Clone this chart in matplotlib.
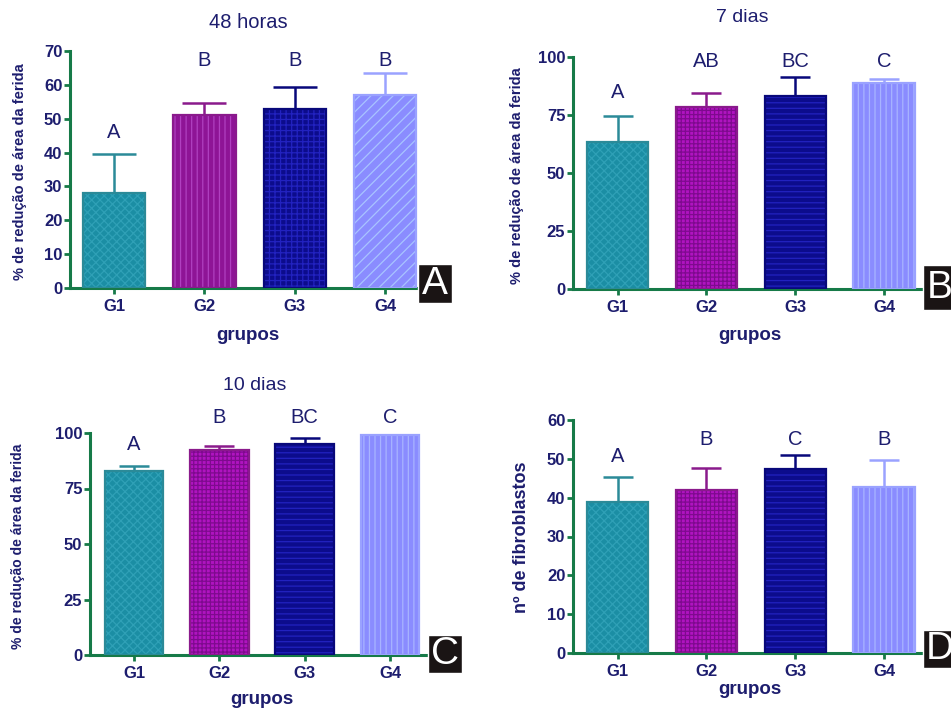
import matplotlib
matplotlib.use("Agg")
import matplotlib.pyplot as plt
from matplotlib.patches import Rectangle
import numpy as np

plt.rcParams['font.family'] = ['Liberation Sans', 'DejaVu Sans']
plt.rcParams['hatch.linewidth'] = 0.9

# ---------------- data ----------------
groups = ["G1", "G2", "G3", "G4"]

a_title = "48 horas"
a_means = [28, 51, 53, 57]
a_err = [11.7, 3.5, 6.5, 6.5]
a_letters = ["A", "B", "B", "B"]
a_letter_y = [45.8, 67.3, 67.3, 67.3]
a_yticks = [0, 10, 20, 30, 40, 50, 60, 70]

b_title = "7 dias"
b_means = [63.5, 78.5, 83, 89]
b_err = [11.2, 5.8, 8.5, 1.7]
b_letters = ["A", "AB", "BC", "C"]
b_letter_y = [84.5, 98, 98, 98]
b_yticks = [0, 25, 50, 75, 100]

c_title = "10 dias"
c_means = [83, 92.3, 95, 99]
c_err = [2.2, 2.0, 2.6, 0.3]
c_letters = ["A", "B", "BC", "C"]
c_letter_y = [95, 106.8, 106.8, 106.8]
c_yticks = [0, 25, 50, 75, 100]

d_means = [39, 42, 47.3, 42.8]
d_err = [6.3, 5.7, 3.7, 7.0]
d_letters = ["A", "B", "C", "B"]
d_letter_y = [50.5, 54.9, 54.9, 54.9]
d_yticks = [0, 10, 20, 30, 40, 50, 60]

ylabel_area = "% de redução de área da ferida"
ylabel_fib = "nº de fibroblastos"
xlabel = "grupos"

# ---------------- style ----------------
W, H = 951, 710
NAVY_TXT = '#1d1d6e'
GREEN = '#167a48'

fill_cols_A = ['#1b8ea4', '#8e1496', '#0c0c8c', '#8a8cff']
fill_cols = ['#1b8ea4', '#b014c0', '#0c0c8c', '#8a8cff']
edge_cols = ['#2b8a98', '#8a1a8c', '#08087a', '#9aa2ff']

# hatch styles for panel A and for B/C/D
hatch_A = ['xxxx', '|||', '+++', '///']
hatch_col_A = ['#2fa0b6', '#b040c0', '#2222c0', '#a8c4ff']
hatch_BCD = ['xxxx', '++++', '---', '|||']
hatch_col_BCD = ['#2fa0b6', '#7e0a8e', '#2222c0', '#a8b4ff']

fig = plt.figure(figsize=(W / 100, H / 100), dpi=100)


def px_axes(left, right, top, bottom):
    return fig.add_axes([left / W, 1 - bottom / H, (right - left) / W, (bottom - top) / H])


def panel(rect, means, err, letters, letter_y, yticks, xlim, fills, hatches, hcols, capsize):
    ax = px_axes(*rect)
    x = np.arange(len(groups))
    width = 0.69
    for i in range(len(groups)):
        ax.bar(x[i], means[i], width=width, color=fills[i], edgecolor=hcols[i],
               hatch=hatches[i], linewidth=0, zorder=2)
        ax.bar(x[i], means[i], width=width, fill=False, edgecolor=edge_cols[i],
               linewidth=1.6, zorder=3)
        ax.errorbar(x[i], means[i], yerr=[[0], [err[i]]], fmt='none', ecolor=edge_cols[i],
                    elinewidth=1.8, capsize=capsize, capthick=1.8, zorder=1)
        ax.text(x[i], letter_y[i], letters[i], ha='center', va='center', fontsize=14.5,
                color=NAVY_TXT, clip_on=False)
    ax.set_xlim(*xlim)
    ax.set_ylim(yticks[0], yticks[-1])
    ax.set_yticks(yticks)
    ax.set_xticks(x)
    ax.set_xticklabels(groups)
    for s in ['top', 'right']:
        ax.spines[s].set_visible(False)
    for s in ['left', 'bottom']:
        ax.spines[s].set_color(GREEN)
        ax.spines[s].set_linewidth(2.2)
    ax.tick_params(axis='both', colors=GREEN, width=2, length=4.5, direction='out',
                   labelcolor=NAVY_TXT, labelsize=12)
    for lab in ax.get_xticklabels() + ax.get_yticklabels():
        lab.set_fontweight('bold')
    ax.tick_params(axis='y', pad=1)
    ax.set_facecolor('none')
    return ax


axA = panel((70, 418, 51, 288), a_means, a_err, a_letters, a_letter_y, a_yticks,
            (-0.487, 3.365), fill_cols_A, hatch_A, hatch_col_A, 15.5)
axB = panel((573, 923, 57, 289), b_means, b_err, b_letters, b_letter_y, b_yticks,
            (-0.501, 3.439), fill_cols, hatch_BCD, hatch_col_BCD, 10.8)
axC = panel((90, 428, 433, 655), c_means, c_err, c_letters, c_letter_y, c_yticks,
            (-0.516, 3.445), fill_cols, hatch_BCD, hatch_col_BCD, 10.8)
axD = panel((573, 923, 420, 653), d_means, d_err, d_letters, d_letter_y, d_yticks,
            (-0.501, 3.439), fill_cols, hatch_BCD, hatch_col_BCD, 10.8)


def ftext(xp, yp, s, **kw):
    fig.text(xp / W, 1 - yp / H, s, ha='center', va='center', color=NAVY_TXT, **kw)


# titles
ftext(248, 23, a_title, fontsize=14.5)
ftext(742, 18, b_title, fontsize=14)
ftext(255, 385, c_title, fontsize=14)

# x labels
ftext(248, 335, xlabel, fontsize=13.5, fontweight='bold')
ftext(750, 335, xlabel, fontsize=13.5, fontweight='bold')
ftext(262, 700, xlabel, fontsize=13.5, fontweight='bold')
ftext(750, 690, xlabel, fontsize=13.5, fontweight='bold')

# y labels
ftext(20, 172, ylabel_area, fontsize=10.5, fontweight='bold', rotation=90)
ftext(517, 176, ylabel_area, fontsize=10.5, fontweight='bold', rotation=90)
ftext(18, 546, ylabel_area, fontsize=10, fontweight='bold', rotation=90)
ftext(522, 537, ylabel_fib, fontsize=13, fontweight='bold', rotation=90)


# panel letter boxes
def letter_box(x0, y0, x1, y1, s):
    r = Rectangle((x0 / W, 1 - y1 / H), (x1 - x0) / W, (y1 - y0) / H, transform=fig.transFigure,
                  facecolor='#1a1414', edgecolor='white', linewidth=1.0, zorder=10)
    fig.patches.append(r)
    fig.text((x0 + x1) / 2 / W, 1 - (y0 + y1) / 2 / H, s, ha='center', va='center',
             color='white', fontsize=28, zorder=11)


letter_box(418, 264, 452, 303, "A")
letter_box(923, 265, 957, 310, "B")
letter_box(428, 635, 462, 673, "C")
letter_box(923, 630, 957, 668, "D")

fig.savefig("out.png", dpi=100)
